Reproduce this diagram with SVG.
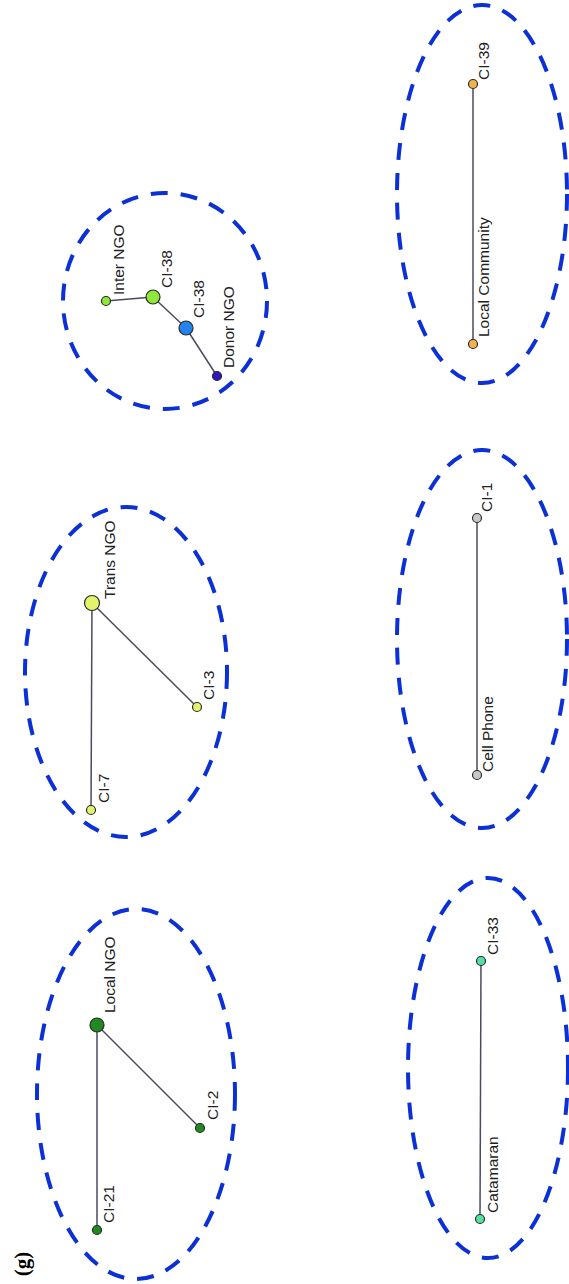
<svg xmlns="http://www.w3.org/2000/svg" width="569" height="1284" viewBox="0 0 569 1284">
<style>
.grp{fill:none;stroke:#0b30d6;stroke-width:4;stroke-dasharray:17 13}
.edge{stroke:#4a4a60;stroke-width:1.5;fill:none}
.nd{stroke:#2a2a2a;stroke-width:1.2}
.lbl{font-family:"Liberation Sans",Arial,sans-serif;font-size:15.5px;fill:#222}
.fig{font-family:"Liberation Serif","Times New Roman",serif;font-size:21px;font-weight:bold;fill:#000}
</style>
<rect width="569" height="1284" fill="#fff"/>
<g id="groups">
<ellipse class="grp" cx="136" cy="1094" rx="99" ry="185"/>
<ellipse class="grp" cx="126" cy="672" rx="101" ry="165"/>
<ellipse class="grp" cx="165" cy="301" rx="102" ry="108"/>
<ellipse class="grp" cx="482" cy="194" rx="85" ry="189"/>
<ellipse class="grp" cx="482" cy="639" rx="85" ry="189"/>
<ellipse class="grp" cx="488" cy="1068" rx="80" ry="190"/>
</g>
<g id="connectors">
<line class="edge" x1="97" y1="1025" x2="97" y2="1230"/>
<line class="edge" x1="97" y1="1025" x2="200" y2="1128"/>
<line class="edge" x1="92" y1="603" x2="91" y2="810"/>
<line class="edge" x1="92" y1="603" x2="197" y2="707"/>
<line class="edge" x1="106" y1="301" x2="153" y2="297"/>
<line class="edge" x1="153" y1="297" x2="186" y2="328"/>
<line class="edge" x1="186" y1="328" x2="217" y2="376"/>
<line class="edge" x1="473" y1="84" x2="473" y2="344"/>
<line class="edge" x1="477" y1="518" x2="477" y2="775"/>
<line class="edge" x1="481" y1="961" x2="480" y2="1219"/>
</g>
<g id="node-local-ngo"><circle class="nd" cx="97" cy="1025" r="7" fill="#1f8a1f"/><text class="lbl" transform="translate(115 1013) rotate(-90)">Local NGO</text></g>
<g id="node-ci-21"><circle class="nd" cx="97" cy="1230" r="4.5" fill="#1f8a1f"/><text class="lbl" transform="translate(114 1223) rotate(-90)">CI-21</text></g>
<g id="node-ci-2"><circle class="nd" cx="200" cy="1128" r="4.5" fill="#1f8a1f"/><text class="lbl" transform="translate(218 1120) rotate(-90)">CI-2</text></g>
<g id="node-trans-ngo"><circle class="nd" cx="92" cy="603" r="7.5" fill="#e4f46a"/><text class="lbl" transform="translate(115 599) rotate(-90)">Trans NGO</text></g>
<g id="node-ci-3"><circle class="nd" cx="197" cy="707" r="4.5" fill="#e4f46a"/><text class="lbl" transform="translate(214 700) rotate(-90)">CI-3</text></g>
<g id="node-ci-7"><circle class="nd" cx="91" cy="810" r="4.5" fill="#e4f46a"/><text class="lbl" transform="translate(109 803) rotate(-90)">CI-7</text></g>
<g id="node-inter-ngo"><circle class="nd" cx="106" cy="301" r="4.5" fill="#8ee83a"/><text class="lbl" transform="translate(124 295) rotate(-90)">Inter NGO</text></g>
<g id="node-ci-38a"><circle class="nd" cx="153" cy="297" r="7" fill="#8ee83a"/><text class="lbl" transform="translate(172 288) rotate(-90)">CI-38</text></g>
<g id="node-ci-38b"><circle class="nd" cx="186" cy="328" r="7" fill="#2384ee"/><text class="lbl" transform="translate(204 318) rotate(-90)">CI-38</text></g>
<g id="node-donor-ngo"><circle class="nd" cx="217" cy="376" r="4.5" fill="#3014c0"/><text class="lbl" transform="translate(234 368) rotate(-90)">Donor NGO</text></g>
<g id="node-ci-39"><circle class="nd" cx="473" cy="84" r="4.5" fill="#f2b24e"/><text class="lbl" transform="translate(489 80) rotate(-90)">CI-39</text></g>
<g id="node-local-community"><circle class="nd" cx="473" cy="344" r="4.5" fill="#f2b24e"/><text class="lbl" transform="translate(489 337) rotate(-90)">Local Community</text></g>
<g id="node-ci-1"><circle class="nd" cx="477" cy="518" r="4.5" fill="#c8c8c8"/><text class="lbl" transform="translate(492 512) rotate(-90)">CI-1</text></g>
<g id="node-cell-phone"><circle class="nd" cx="477" cy="775" r="4.5" fill="#c8c8c8"/><text class="lbl" transform="translate(493 772) rotate(-90)">Cell Phone</text></g>
<g id="node-ci-33"><circle class="nd" cx="481" cy="961" r="4.5" fill="#55e0a4"/><text class="lbl" transform="translate(498 955) rotate(-90)">CI-33</text></g>
<g id="node-catamaran"><circle class="nd" cx="480" cy="1219" r="4.5" fill="#55e0a4"/><text class="lbl" transform="translate(498 1213) rotate(-90)">Catamaran</text></g>
<text class="fig" transform="translate(29 1264) rotate(-90)" text-anchor="middle">(g)</text>
</svg>
